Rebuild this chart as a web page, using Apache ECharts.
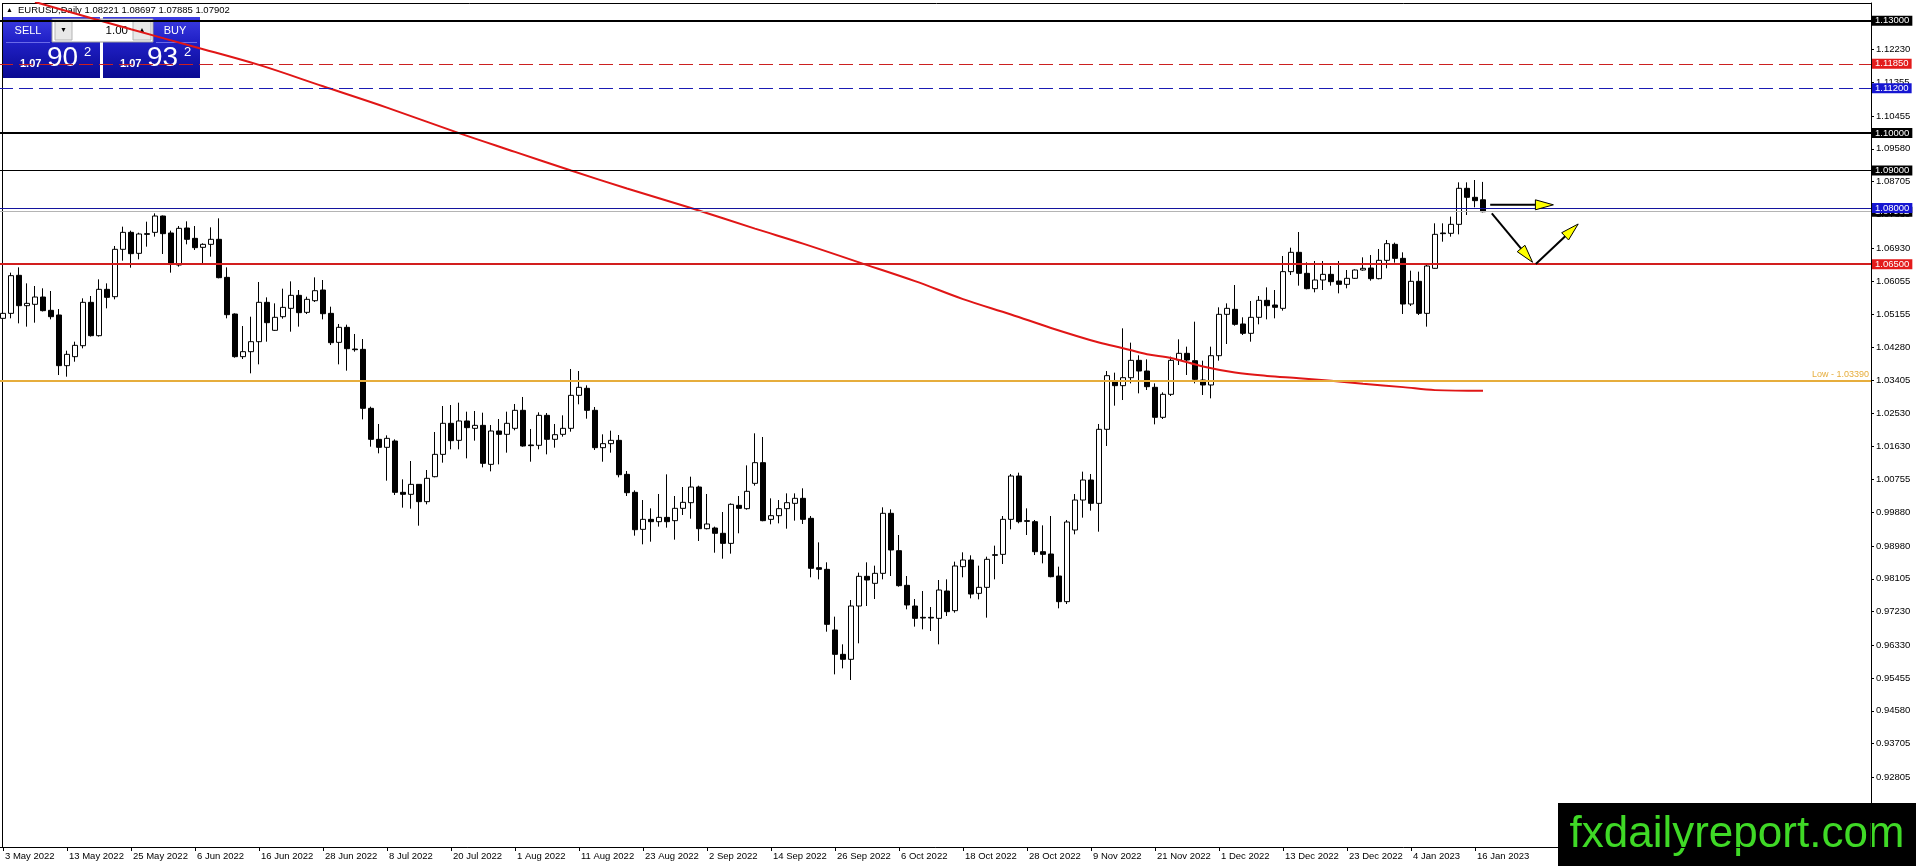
<!DOCTYPE html>
<html>
<head>
<meta charset="utf-8">
<script src="https://cdn.jsdelivr.net/npm/echarts@6/dist/echarts.min.js"></script>
<style>
html,body{margin:0;padding:0;background:#fff;}
#chart{width:1916px;height:866px;}
</style>
</head>
<body>
<div id="chart"></div>
<script>
// ---------------- DATA ----------------
const xTickLabels = ['3 May 2022','13 May 2022','25 May 2022','6 Jun 2022','16 Jun 2022','28 Jun 2022','8 Jul 2022','20 Jul 2022','1 Aug 2022','11 Aug 2022','23 Aug 2022','2 Sep 2022','14 Sep 2022','26 Sep 2022','6 Oct 2022','18 Oct 2022','28 Oct 2022','9 Nov 2022','21 Nov 2022','1 Dec 2022','13 Dec 2022','23 Dec 2022','4 Jan 2023','16 Jan 2023'];
const barsPerTick = 8;
const totalSlots = 234;

const open = [1.05056,1.05189,1.06204,1.05394,1.05430,1.05625,1.05270,1.05145,1.03793,1.04033,
1.04326,1.05483,1.04593,1.05830,1.05634,1.06898,1.07351,1.06791,1.07316,1.07351,
1.07787,1.07334,1.06480,1.07467,1.07191,1.06951,1.07031,1.07165,1.06150,1.05171,
1.04033,1.04166,1.04433,1.05483,1.04736,1.05100,1.05323,1.05670,1.05216,1.05527,
1.05812,1.05189,1.04415,1.04816,1.04237,1.04228,1.02654,1.01826,1.01613,1.01782,
1.00412,1.00359,1.00625,1.00163,1.00830,1.01426,1.02254,1.01800,1.02316,1.02120,
1.02200,1.01159,1.02049,1.01960,1.02120,1.02601,1.01676,1.01667,1.02467,1.01827,
1.01960,1.02120,1.03001,1.03188,1.02601,1.01604,1.01711,1.01800,1.00892,1.00412,
0.99424,0.99691,0.99629,0.99744,0.99656,0.99985,1.00136,1.00554,0.99442,0.99460,
0.99318,0.99050,1.00065,0.99976,1.00652,1.01204,0.99691,0.99789,0.99976,1.00118,
1.00252,0.99718,0.98401,0.98357,0.96738,0.96088,0.95955,0.97378,0.98170,0.97983,
0.98250,0.99852,0.98855,0.97930,0.97378,0.97076,0.97076,0.97049,0.97778,0.97254,
0.98428,0.98606,0.97716,0.97876,0.98748,0.98757,0.99691,1.00848,0.99656,0.99629,
0.98828,0.98766,0.98179,0.97494,0.99407,1.00207,1.00741,1.00118,1.02094,1.03384,
1.03259,1.03472,1.03935,1.03650,1.03215,1.02414,1.03028,1.03944,1.04122,1.03926,
1.03410,1.03277,1.04059,1.05163,1.05296,1.04905,1.04656,1.05083,1.05537,1.05412,
1.05323,1.06302,1.06818,1.06257,1.05848,1.06079,1.06230,1.06052,1.05963,1.06124,
1.06346,1.06399,1.06115,1.06604,1.07031,1.06657,1.05438,1.06044,1.05189,1.06391,
1.07334,1.07325,1.07565,1.08526,1.08286,1.08221];
const close = [1.05189,1.06195,1.05394,1.05456,1.05625,1.05261,1.05100,1.03793,1.04095,1.04335,
1.05483,1.04593,1.05830,1.05616,1.06898,1.07351,1.06782,1.07307,1.07298,1.07787,
1.07316,1.06524,1.07458,1.07165,1.06942,1.07031,1.07165,1.06141,1.05154,1.04033,
1.04166,1.04433,1.05483,1.04940,1.05083,1.05349,1.05670,1.05207,1.05563,1.05794,
1.05180,1.04406,1.04816,1.04246,1.04219,1.02654,1.01826,1.01613,1.01853,1.00412,
1.00359,1.00625,1.00163,1.00786,1.01426,1.02254,1.01791,1.02316,1.02138,1.02200,
1.01186,1.02049,1.01960,1.02254,1.02601,1.01649,1.01658,1.02467,1.01827,1.01951,
1.02120,1.03001,1.03214,1.02601,1.01604,1.01711,1.01800,1.00883,1.00403,0.99415,
0.99691,0.99629,0.99744,0.99629,0.99985,1.00145,1.00554,0.99442,0.99567,0.99318,
0.99050,1.00092,0.99985,1.00439,1.01204,0.99656,0.99789,0.99976,1.00136,1.00252,
0.99691,0.98384,0.98357,0.96889,0.96088,0.95955,0.97378,0.98170,0.98072,0.98250,
0.99852,0.98873,0.97921,0.97405,0.97049,0.97058,0.97058,0.97805,0.97227,0.98446,
0.98606,0.97698,0.97876,0.98624,0.98731,0.99691,1.00848,0.99629,0.99638,0.98828,
0.98757,0.98161,0.97494,0.99620,1.00207,1.00741,1.00118,1.02094,1.03526,1.03259,
1.03472,1.03935,1.03650,1.03232,1.02414,1.03028,1.03935,1.04122,1.03944,1.03428,
1.03277,1.04059,1.05163,1.05323,1.04896,1.04656,1.05083,1.05537,1.05394,1.05350,
1.06302,1.06818,1.06257,1.05848,1.06079,1.06230,1.06035,1.05963,1.06124,1.06346,
1.06391,1.06115,1.06604,1.07049,1.06657,1.05438,1.06044,1.05189,1.06453,1.07298,
1.07316,1.07565,1.08526,1.08286,1.08197,1.07902];
const low = [1.04922,1.05056,1.04922,1.04834,1.04940,1.05240,1.05029,1.03543,1.03499,1.03899,
1.04255,1.04570,1.04570,1.05323,1.05563,1.06595,1.06408,1.06631,1.06969,1.07236,
1.06773,1.06275,1.06435,1.07031,1.06880,1.06524,1.06702,1.06124,1.05056,1.04006,
1.03970,1.03588,1.03828,1.04433,1.04720,1.05047,1.04700,1.04834,1.05171,1.05492,
1.05029,1.04344,1.03828,1.03659,1.04166,1.02360,1.01631,1.01453,1.00723,1.00341,
1.00003,0.99976,0.99522,1.00092,1.00812,1.01204,1.01560,1.01560,1.01319,1.01791,
1.01079,1.00972,1.01159,1.01471,1.02067,1.01631,1.01230,1.01560,1.01426,1.01604,
1.01898,1.02031,1.02761,1.02378,1.01542,1.01230,1.01471,1.00812,1.00314,0.99255,
0.99024,0.99095,0.99496,0.99469,0.99149,0.99807,0.99709,0.99113,0.99424,0.98801,
0.98641,0.98775,0.99318,0.99949,1.00590,0.99640,0.99558,0.99584,0.99442,0.99656,
0.99567,0.98144,0.98090,0.96693,0.95554,0.95714,0.95403,0.96382,0.97378,0.97565,
0.98090,0.98179,0.97894,0.97289,0.96827,0.96756,0.96711,0.96355,0.97111,0.97200,
0.98144,0.97583,0.97556,0.97067,0.98090,0.98499,0.99424,0.99585,0.99273,0.98739,
0.98517,0.98144,0.97316,0.97431,0.99291,0.99736,0.99923,0.99362,1.01649,1.02725,
1.02876,1.03321,1.03054,1.03143,1.02227,1.02369,1.02983,1.03810,1.03544,1.03321,
1.03010,1.02921,1.03926,1.04371,1.04860,1.04611,1.04433,1.04896,1.05029,1.05056,
1.05261,1.06213,1.05928,1.05830,1.05750,1.05812,1.05928,1.05723,1.05857,1.06106,
1.06328,1.06061,1.06097,1.06391,1.06542,1.05172,1.05385,1.05145,1.04834,1.06380,
1.07102,1.07236,1.07298,1.07814,1.08019,1.07885];
const high = [1.05768,1.06275,1.06417,1.05990,1.05919,1.05857,1.05786,1.05305,1.04193,1.04433,
1.05590,1.05652,1.06097,1.05990,1.06987,1.07503,1.07396,1.07342,1.07636,1.07858,
1.07800,1.07396,1.07520,1.07645,1.07520,1.07058,1.07485,1.07725,1.06417,1.05189,
1.04851,1.05100,1.06026,1.05616,1.05456,1.05848,1.06043,1.05812,1.05634,1.06150,
1.06079,1.05367,1.04905,1.04887,1.04638,1.04504,1.02698,1.02236,1.01933,1.01826,
1.00759,1.01248,1.00630,1.01008,1.02022,1.02716,1.02743,1.02805,1.02565,1.02583,
1.02538,1.02209,1.02369,1.02565,1.02770,1.02957,1.02103,1.02547,1.02529,1.02236,
1.02467,1.03704,1.03650,1.03268,1.02690,1.01960,1.02058,1.01942,1.00981,1.00465,
1.00207,0.99985,1.00368,1.00892,1.00314,1.00554,1.00830,1.00590,1.00368,0.99496,
0.99887,1.00118,1.00314,1.01132,1.01987,1.01889,1.00252,1.00207,1.00385,1.00385,
1.00519,0.99780,0.99077,0.98544,0.97094,0.96355,0.97538,0.98268,0.98544,0.98455,
1.00012,0.99958,0.99273,0.98179,0.97565,0.97778,0.97351,0.98072,0.98090,0.98562,
0.98811,0.98731,0.98455,0.98695,0.98989,0.99780,1.00901,1.00937,0.99985,0.99674,
0.99531,0.99780,0.98428,0.99674,1.00367,1.00964,1.00901,1.02236,1.03650,1.03606,
1.04789,1.04407,1.04069,1.03962,1.03321,1.03081,1.04033,1.04496,1.04300,1.04967,
1.03926,1.04300,1.05350,1.05456,1.05946,1.05083,1.05519,1.05652,1.05883,1.05812,
1.06720,1.06942,1.07360,1.06551,1.06586,1.06586,1.06453,1.06586,1.06346,1.06364,
1.06684,1.06746,1.06907,1.07147,1.07076,1.06818,1.06328,1.06302,1.06480,1.07592,
1.07592,1.07770,1.08686,1.08686,1.08748,1.08697];

const maIndex = [4,16,24,32,40,48,57,64,71,78,86,94,100,107,114,120,126,131,137,140,143,146,150,154,158,162,166,170,175,179,185];
const maValue = [1.1350,1.1277,1.1230,1.1182,1.1125,1.1068,1.1000,1.0950,1.0900,1.0852,1.0800,1.0745,1.0705,1.0655,1.0605,1.0557,1.0516,1.0480,1.0441,1.0426,1.0410,1.0400,1.0377,1.0361,1.0352,1.0346,1.0339,1.0331,1.0322,1.0314,1.0312];

const yTicks = [1.12230,1.11355,1.10455,1.09580,1.08705,1.07830,1.06930,1.06055,1.05155,1.04280,1.03405,1.02530,1.01630,1.00755,0.99880,0.98980,0.98105,0.97230,0.96330,0.95455,0.94580,0.93705,0.92805,0.91930];
const yMin = 0.90946, yMax = 1.134724;

const levelValues = [1.13000, 1.11850, 1.11200, 1.10000, 1.09000, 1.07902, 1.08000, 1.06500, 1.03390];
const levelColors = ['#000000','#cc2020','#1a1ab4','#000000','#000000','#b4b4b4','#14149e','#d21e1e','#e6ad3c'];
const levelBoxColors = ['#000000','#e31b1b','#1616d2','#000000','#000000','#000000','#1616d2','#e31b1b', null];
const levelWidths = [2,1,1,2,1,1,1,2,2];
const levelDashed = [false,true,true,false,false,false,false,false,false];

// arrows: [fromBar, fromPrice, toBar, toPrice]
const arrows = [
  [185.9, 1.08086, 193.8, 1.08086],
  [186.1, 1.07860, 191.2, 1.06551],
  [191.6, 1.06506, 196.9, 1.07574]
];

// ---------------- BUILD ----------------
const FONT = "'Liberation Sans', Arial, sans-serif";
const FS = 9.5;
const categories = [];
const labelMap = {};
for (let i = 0; i < totalSlots; i++) categories.push('b' + i);
xTickLabels.forEach((t, j) => { labelMap[j * barsPerTick] = t; });
const candles = open.map((o, i) => [o, close[i], low[i], high[i]]);
const maData = maIndex.map((x, i) => [x, maValue[i]]);

const markData = levelValues.map((v, i) => {
  const item = {
    yAxis: v,
    lineStyle: { color: levelColors[i], width: levelWidths[i], type: levelDashed[i] ? [14, 6] : 'solid' }
  };
  if (levelBoxColors[i]) {
    item.label = { show: true, position: 'end', distance: 1, formatter: v.toFixed(5),
      backgroundColor: levelBoxColors[i], color: '#fff', fontSize: FS, fontFamily: FONT,
      padding: [1, 3, 0, 3], lineHeight: 9 };
  } else {
    item.label = { show: true, position: 'insideEndTop', distance: 2, formatter: 'Low - ' + v.toFixed(5),
      color: '#e6ad3c', fontSize: 9, fontFamily: FONT };
  }
  return item;
});

const chart = echarts.init(document.getElementById('chart'), null, { renderer: 'canvas' });

function blueGrad() {
  return new echarts.graphic.LinearGradient(0, 0, 0, 1, [
    { offset: 0, color: '#3c3ce2' }, { offset: 0.4, color: '#2020c6' }, { offset: 1, color: '#0a0a92' }
  ]);
}

const option = {
  animation: false,
  backgroundColor: '#ffffff',
  grid: { left: -1, right: 45, top: 3, bottom: 19, outerBoundsMode: 'none', containLabel: false },
  xAxis: {
    type: 'category', data: categories, boundaryGap: true,
    axisLine: { show: true, lineStyle: { color: '#000', width: 1 } },
    axisTick: { show: true, alignWithLabel: true, length: 4, interval: (i) => labelMap[i] !== undefined, lineStyle: { color: '#000' } },
    axisLabel: { show: true, interval: (i) => labelMap[i] !== undefined, formatter: (v, i) => labelMap[i] || '',
      align: 'left', margin: 4, padding: [0, 0, 0, 2], color: '#000', fontSize: FS, fontFamily: FONT },
    splitLine: { show: false }
  },
  yAxis: {
    type: 'value', position: 'right', min: yMin, max: yMax, scale: true,
    axisLine: { show: true, lineStyle: { color: '#000', width: 1 } },
    axisTick: { show: true, customValues: yTicks, length: 3, lineStyle: { color: '#000' } },
    axisLabel: { show: true, customValues: yTicks, formatter: (v) => v.toFixed(5), margin: 5,
      color: '#000', fontSize: FS, fontFamily: FONT },
    splitLine: { show: false }
  },
  series: [
    {
      type: 'candlestick', data: candles, barWidth: 5, z: 2,
      itemStyle: { color: '#ffffff', color0: '#000000', borderColor: '#000000', borderColor0: '#000000', borderWidth: 1 },
      emphasis: { disabled: true }
    },
    {
      type: 'line', data: maData, smooth: 0.35, symbol: 'none', z: 3, silent: true,
      lineStyle: { color: '#e01616', width: 2 },
      markLine: { silent: true, symbol: ['none', 'none'], animation: false, precision: 5, data: markData }
    },
    {
      type: 'custom', z: 6, silent: true,
      data: arrows.map(a => [Math.round(a[0]), a[1]]),
      renderItem: function (params, api) {
        const a = arrows[params.dataIndex];
        const bw = api.size([1, 0])[0];
        const c1 = api.coord([0, a[1]]);
        const c2 = api.coord([0, a[3]]);
        const p1 = [c1[0] + a[0] * bw, c1[1]];
        const p2 = [c2[0] + a[2] * bw, c2[1]];
        const dx = p2[0] - p1[0], dy = p2[1] - p1[1];
        const len = Math.sqrt(dx * dx + dy * dy);
        const ux = dx / len, uy = dy / len;
        const L = 18, W = 5;
        const bx = p2[0] - ux * L, by = p2[1] - uy * L;
        const nx = -uy, ny = ux;
        return {
          type: 'group',
          children: [
            { type: 'line', shape: { x1: p1[0], y1: p1[1], x2: bx + ux * 2, y2: by + uy * 2 }, style: { stroke: '#000', lineWidth: 2 } },
            { type: 'polygon', shape: { points: [[p2[0], p2[1]], [bx + nx * W, by + ny * W], [bx - nx * W, by - ny * W]] },
              style: { fill: '#ffff00', stroke: '#000', lineWidth: 1 } }
          ]
        };
      }
    }
  ],
  graphic: [
    // chart frame (left and top border)
    { type: 'line', z: 1, shape: { x1: 2.5, y1: 3, x2: 2.5, y2: 847 }, style: { stroke: '#000', lineWidth: 1 } },
    { type: 'line', z: 1, shape: { x1: 2, y1: 3.5, x2: 1871, y2: 3.5 }, style: { stroke: '#000', lineWidth: 1 } },
    // header
    { type: 'text', z: 1, x: 6, y: 10, style: { text: '\u25B2', fontSize: 7, fill: '#000', verticalAlign: 'middle' } },
    { type: 'text', z: 1, x: 18, y: 10, style: { text: 'EURUSD,Daily 1.08221 1.08697 1.07885 1.07902', fontSize: 9.5, fontFamily: FONT, fill: '#000', verticalAlign: 'middle' } },
    // one-click trading panel
    { type: 'group', z: 100, children: [
      { type: 'rect', shape: { x: 3, y: 17, width: 97, height: 61 }, style: { fill: blueGrad() } },
      { type: 'rect', shape: { x: 103, y: 17, width: 97, height: 61 }, style: { fill: blueGrad() } },
      { type: 'line', shape: { x1: 6, y1: 42.5, x2: 50, y2: 42.5 }, style: { stroke: '#6a6ae8', lineWidth: 1 } },
      { type: 'line', shape: { x1: 156, y1: 42.5, x2: 197, y2: 42.5 }, style: { stroke: '#6a6ae8', lineWidth: 1 } },
      { type: 'rect', shape: { x: 52, y: 19, width: 101, height: 23 }, style: { fill: '#ffffff', stroke: '#9a9a9a', lineWidth: 1 } },
      { type: 'rect', shape: { x: 55, y: 21, width: 17, height: 19 }, style: { fill: '#e8e8e8', stroke: '#b4b4b4', lineWidth: 1 } },
      { type: 'rect', shape: { x: 133, y: 21, width: 18, height: 19 }, style: { fill: '#e8e8e8', stroke: '#b4b4b4', lineWidth: 1 } },
      { type: 'text', x: 63.5, y: 30.5, style: { text: '\u25BC', fontSize: 7, fill: '#000', align: 'center', verticalAlign: 'middle' } },
      { type: 'text', x: 142, y: 30.5, style: { text: '\u25B2', fontSize: 7, fill: '#000', align: 'center', verticalAlign: 'middle' } },
      { type: 'text', x: 128, y: 30.5, style: { text: '1.00', fontSize: 11.5, fontFamily: FONT, fill: '#000', align: 'right', verticalAlign: 'middle' } },
      { type: 'text', x: 28, y: 31, style: { text: 'SELL', fontSize: 11, fontFamily: FONT, fill: '#fff', align: 'center', verticalAlign: 'middle' } },
      { type: 'text', x: 175, y: 31, style: { text: 'BUY', fontSize: 11, fontFamily: FONT, fill: '#fff', align: 'center', verticalAlign: 'middle' } },
      { type: 'text', x: 20, y: 69, style: { text: '1.07', fontSize: 11, fontWeight: 'bold', fontFamily: FONT, fill: '#fff', verticalAlign: 'bottom' } },
      { type: 'text', x: 47, y: 72, style: { text: '90', fontSize: 28, fontFamily: FONT, fill: '#fff', verticalAlign: 'bottom' } },
      { type: 'text', x: 84, y: 52, style: { text: '2', fontSize: 13, fontFamily: FONT, fill: '#fff', verticalAlign: 'middle' } },
      { type: 'text', x: 120, y: 69, style: { text: '1.07', fontSize: 11, fontWeight: 'bold', fontFamily: FONT, fill: '#fff', verticalAlign: 'bottom' } },
      { type: 'text', x: 147, y: 72, style: { text: '93', fontSize: 28, fontFamily: FONT, fill: '#fff', verticalAlign: 'bottom' } },
      { type: 'text', x: 184, y: 52, style: { text: '2', fontSize: 13, fontFamily: FONT, fill: '#fff', verticalAlign: 'middle' } }
    ]},
    // watermark
    { type: 'group', z: 200, children: [
      { type: 'rect', shape: { x: 1558, y: 803, width: 358, height: 63 }, style: { fill: '#000' } },
      { type: 'text', x: 1737, y: 835, style: { text: 'fxdailyreport.com', fontSize: 44, fontFamily: FONT, fill: '#3fd926', align: 'center', verticalAlign: 'middle' } }
    ]}
  ]
};
chart.setOption(option);
</script>
</body>
</html>
